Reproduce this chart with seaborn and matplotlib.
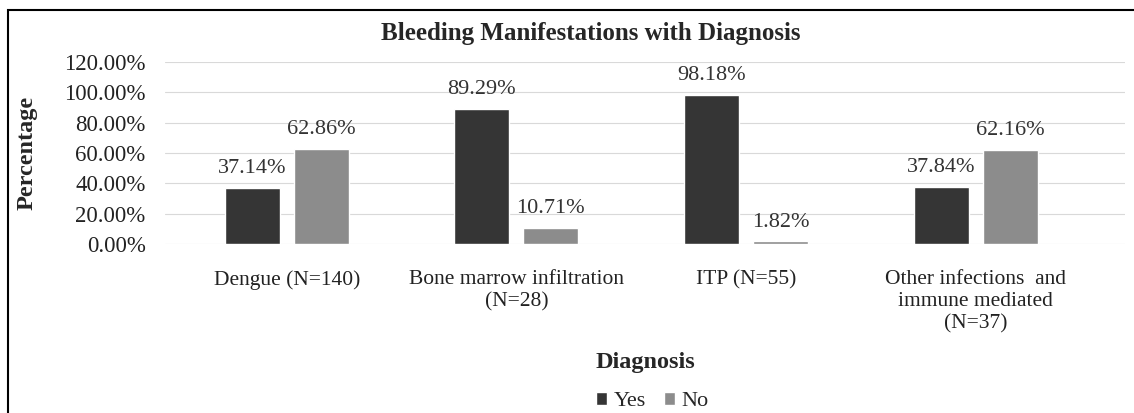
import pandas as pd
import matplotlib
matplotlib.use("Agg")
import matplotlib.pyplot as plt
from matplotlib.patches import Rectangle
import seaborn as sns

# --------------------------------------------------
# Data
# --------------------------------------------------
categories = [
    "Dengue (N=140)",
    "Bone marrow infiltration\n(N=28)",
    "ITP (N=55)",
    "Other infections  and\nimmune mediated\n(N=37)",
]
yes_pct = [37.14, 89.29, 98.18, 37.84]
no_pct = [62.86, 10.71, 1.82, 62.16]
y_ticks = [0, 20, 40, 60, 80, 100, 120]

df = pd.DataFrame({
    "Diagnosis": categories * 2,
    "Status": ["Yes"] * 4 + ["No"] * 4,
    "Percentage": yes_pct + no_pct,
})

# --------------------------------------------------
# Plot
# --------------------------------------------------
sns.set_theme(style="white")
plt.rcParams["font.family"] = ["Liberation Serif", "DejaVu Serif"]

fig = plt.figure(figsize=(11.34, 4.13), dpi=100)
ax = fig.add_axes([0.1455, 0.409, 0.8465, 0.441])

sns.barplot(data=df, x="Diagnosis", y="Percentage", hue="Status",
            palette={"Yes": "#353535", "No": "#8c8c8c"},
            width=0.6, gap=0.2, ax=ax, legend=True)

for cont in ax.containers:
    ax.bar_label(cont, fmt="%.2f%%", padding=7, fontsize=16, color="#333333")

ax.set_ylim(0, 120)
ax.set_xlim(-0.53, 3.65)
ax.set_yticks(y_ticks)
ax.set_yticklabels([f"{t:.2f}%" for t in y_ticks], fontsize=16.5, color="#222222")
ax.tick_params(axis="x", labelsize=15.5, colors="#222222", length=0, pad=19)
ax.tick_params(axis="y", length=0, pad=14)
ax.yaxis.grid(True, color="#d9d9d9", linewidth=0.8)
ax.set_axisbelow(True)
for s in ax.spines.values():
    s.set_visible(False)

ax.set_xlabel("Diagnosis", fontsize=17.5, fontweight="bold")
ax.xaxis.set_label_coords(0.5, -0.648)
ax.xaxis.label.set_va("center")
ax.set_ylabel("Percentage", fontsize=17.5, fontweight="bold")
ax.yaxis.set_label_coords(-0.144, 0.5)
ax.yaxis.label.set_va("center")
fig.text(0.521, 0.92, "Bleeding Manifestations with Diagnosis",
         ha="center", va="center", fontsize=18, fontweight="bold")

handles, labels = ax.get_legend_handles_labels()
ax.legend(handles, labels, loc="center", bbox_to_anchor=(0.575, 0.027),
          bbox_transform=fig.transFigure, ncol=2, frameon=False,
          fontsize=16, handlelength=0.5, handleheight=0.5,
          handletextpad=0.3, columnspacing=0.8)

fig.patches.append(Rectangle((0.007, -0.01), 1.0, 0.985, transform=fig.transFigure,
                             fill=False, edgecolor="black", linewidth=1.5))

fig.savefig("out.png", dpi=100)
plt.close(fig)
